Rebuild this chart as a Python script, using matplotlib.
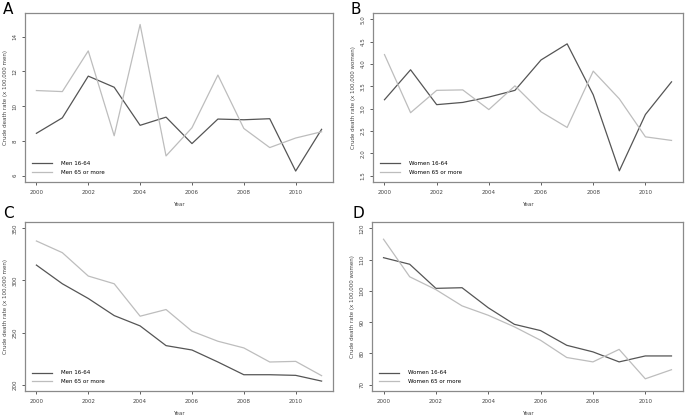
import numpy as np
from matplotlib import pyplot as plt

years = np.arange(2000, 2012)

# A: men
men_a_1664 = [8.44, 9.33, 11.73, 11.09, 8.90, 9.37, 7.85, 9.26, 9.22, 9.28, 6.27, 8.67]
men_a_65 = [10.90, 10.84, 13.18, 8.30, 14.70, 7.14, 8.76, 11.79, 8.72, 7.62, 8.17, 8.53]

# B: women
wom_b_1664 = [3.20, 3.87, 3.09, 3.14, 3.26, 3.41, 4.09, 4.45, 3.31, 1.61, 2.87, 3.60]
wom_b_65 = [4.21, 2.91, 3.41, 3.42, 2.98, 3.51, 2.93, 2.58, 3.84, 3.22, 2.37, 2.29]

# C: men
men_c_1664 = [314.7, 296.8, 282.7, 266.3, 256.4, 237.5, 233.3, 221.8, 209.6, 209.6, 209.0, 203.5]
men_c_65 = [337.8, 326.6, 304.2, 296.8, 265.7, 272.1, 251.3, 241.7, 235.3, 221.8, 222.4, 208.7]

# D: women
wom_d_1664 = [110.6, 108.5, 100.8, 101.0, 94.6, 89.3, 87.3, 82.6, 80.5, 77.3, 79.2, 79.2]
wom_d_65 = [116.5, 104.5, 100.4, 95.2, 92.2, 88.5, 84.2, 78.7, 77.3, 81.3, 71.9, 74.8]

W, H = 685, 417
fig = plt.figure(figsize=(W / 100, H / 100), dpi=100)

dark = '#555555'
light = '#bdbdbd'
boxc = '#8a8a8a'


def px_axes(l, t, r, b):
    return fig.add_axes([l / W, 1 - b / H, (r - l) / W, (b - t) / H])


# letter, axes box (px), letter position (px), series, ylim, yticks
panels = [
    ('A', (25, 13, 333, 182), (3, 14), men_a_1664, men_a_65, (6, 15), [6, 8, 10, 12, 14], 'men', 'Men'),
    ('B', (373, 13, 683, 182), (351, 14), wom_b_1664, wom_b_65, (1.5, 5.0), [1.5, 2.0, 2.5, 3.0, 3.5, 4.0, 4.5, 5.0], 'women', 'Women'),
    ('C', (25, 222, 333, 391), (3, 218), men_c_1664, men_c_65, (200, 350), [200, 250, 300, 350], 'men', 'Men'),
    ('D', (372, 222, 683, 391), (352, 218), wom_d_1664, wom_d_65, (70, 120), [70, 80, 90, 100, 110, 120], 'women', 'Women'),
]

for letter, box, lpos, s1, s2, ylim, yticks, who, lab in panels:
    ax = px_axes(*box)
    ax.plot(years, s1, color=dark, lw=0.9, label=lab + ' 16-64')
    ax.plot(years, s2, color=light, lw=0.9, label=lab + ' 65 or more')
    span = ylim[1] - ylim[0]
    ax.set_ylim(ylim[0] - 0.04 * span, ylim[1] + 0.04 * span)
    ax.set_xlim(2000 - 0.04 * 11, 2011 + 0.04 * 11)
    ax.set_xticks(range(2000, 2012, 2))
    ax.set_yticks(yticks)
    if isinstance(yticks[0], float):
        ax.set_yticklabels(['%.1f' % v for v in yticks])
    for sp in ax.spines.values():
        sp.set_color(boxc)
        sp.set_linewidth(0.9)
    ax.tick_params(labelsize=4, colors='#444444', length=2.5, width=0.6, pad=3)
    for t in ax.get_yticklabels():
        t.set_rotation(90)
        t.set_va('center')
    ax.set_xlabel('Year', fontsize=4, color='#444444', labelpad=5)
    ax.set_ylabel('Crude death rate (x 100,000 %s)' % who, fontsize=4, color='#444444', labelpad=3)
    ax.legend(loc='lower left', frameon=False, fontsize=4, handlelength=3.6, handletextpad=1.5,
              borderaxespad=0.9, labelspacing=0.6)
    fig.text(lpos[0] / W, 1 - lpos[1] / H, letter, fontsize=11, va='baseline', ha='left')

fig.savefig('out.png', dpi=100)
